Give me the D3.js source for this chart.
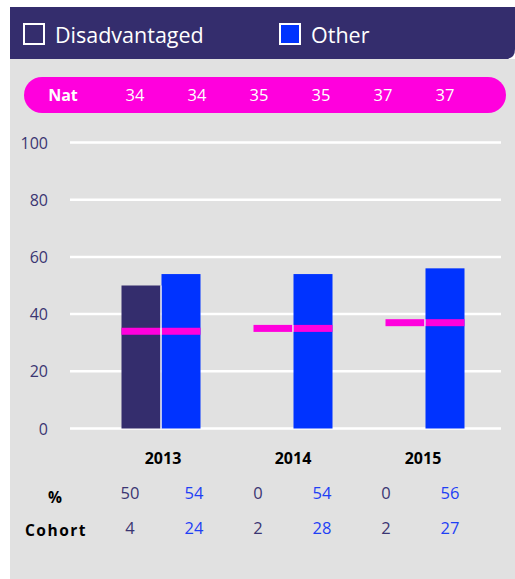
<!DOCTYPE html>
<html><head><meta charset="utf-8">
<script src="https://cdn.jsdelivr.net/npm/d3@7"></script>
<style>
html,body{margin:0;padding:0;background:#fff;}
text{font-family:"Open Sans",sans-serif;}
</style></head>
<body>
<svg id="c" width="515" height="579"></svg>
<script>
const years = ["2013","2014","2015"];
const series = ["Disadvantaged","Other"];
const disadvantaged = [50, 0, 0];
const other = [54, 54, 56];
const national = [34, 35, 37];
const natLabels = ["34","34","35","35","37","37"];
const cohortDis = [4, 2, 2];
const cohortOther = [24, 28, 27];
const yTicks = [0,20,40,60,80,100];

const colDis = "#342D6D", colOther = "#0033FF", colNat = "#FF00DD";
const svg = d3.select("#c");

// panels
svg.append("rect").attr("x",10).attr("y",59).attr("width",505).attr("height",520).attr("fill","#E1E1E1");
svg.append("path").attr("d", "M10,7 H515 V49 Q515,59 505,59 H10 Z").attr("fill", colDis);

// legend
const legend = [{name:series[0], fill:"none", x:23}, {name:series[1], fill:colOther, x:279}];
legend.forEach(l=>{
  svg.append("rect").attr("x",l.x+1).attr("y",24).attr("width",20).attr("height",20)
    .attr("fill",l.fill==="none"?colDis:l.fill).attr("stroke","#fff").attr("stroke-width",2);
  svg.append("text").attr("x",l.x+32).attr("y",42.5).attr("fill","#fff")
    .attr("font-size",21.5).text(l.name);
});

// Nat pill
svg.append("rect").attr("x",24).attr("y",77).attr("width",482).attr("height",36).attr("rx",18).attr("fill",colNat);
svg.append("text").attr("x",63).attr("y",101).attr("text-anchor","middle").attr("fill","#fff")
  .attr("font-weight","bold").attr("font-size",16).text("Nat");

// scales
const x0 = d3.scaleBand().domain(years).range([95.5, 491.5]);
const x1 = d3.scaleBand().domain(series).range([-40, 40]);
const y = d3.scaleLinear().domain([0,100]).range([428.5, 142.5]);
const bw = x1.bandwidth() - 1;
const natX = d3.scalePoint().domain(d3.range(natLabels.length)).range([135, 445]);
const tabX = d3.scalePoint().domain(d3.range(6)).range([130, 450]);
const yearX = d3.scalePoint().domain(years).range([163, 423]);

natLabels.forEach((t,i)=>{
  svg.append("text").attr("x", natX(i)).attr("y",101).attr("text-anchor","middle")
    .attr("fill","#fff").attr("font-size",16.5).text(t);
});

// grid
const g = svg.append("g");
yTicks.forEach(v=>{
  g.append("line").attr("x1",70).attr("x2",501).attr("y1",y(v)).attr("y2",y(v))
    .attr("stroke","#fff").attr("stroke-width",2.5);
  g.append("text").attr("x",48).attr("y",y(v)+6).attr("text-anchor","end")
    .attr("fill","#3B3572").attr("font-size",16).text(v);
});

// bars
const groups = svg.selectAll("g.grp").data(years).enter().append("g")
  .attr("transform", d=>`translate(${x0(d)+x0.bandwidth()/2},0)`);
groups.each(function(yr,i){
  const gg = d3.select(this);
  const vals = [disadvantaged[i], other[i]];
  series.forEach((s,j)=>{
    if (vals[j] > 0) gg.append("rect").attr("x", x1(s)).attr("width", bw)
      .attr("y", y(vals[j])).attr("height", y(0)-y(vals[j])).attr("fill", j? colOther: colDis);
    gg.append("rect").attr("x", x1(s)).attr("width", bw)
      .attr("y", y(national[i])-3.5).attr("height", 7).attr("fill", colNat);
  });
  const ov = Math.min(vals[0], vals[1]);
  const xs = x1(series[1]) - 1;
  if (ov > 0) gg.append("rect").attr("x", xs).attr("width",1).attr("y", y(ov)).attr("height", y(0)-y(ov)).attr("fill","#fff");
  gg.append("rect").attr("x", xs).attr("width",1).attr("y", y(national[i])-3.5).attr("height",7).attr("fill","#fff");
});

// category labels
years.forEach(yr=>{
  svg.append("text").attr("x", yearX(yr)).attr("y",464).attr("text-anchor","middle")
    .attr("font-weight","bold").attr("font-size",16).attr("fill","#000").text(yr);
});

// table
svg.append("text").attr("x",55).attr("y",503).attr("text-anchor","middle").attr("font-weight","bold")
  .attr("font-size",15.5).attr("fill","#000").text("%");
svg.append("text").attr("x",56).attr("y",536).attr("text-anchor","middle").attr("font-weight","bold")
  .attr("font-size",15.5).attr("letter-spacing",1.5).attr("fill","#000").text("Cohort");
years.forEach((yr,i)=>{
  [[disadvantaged[i], cohortDis[i], 2*i, "#3B3572"],[other[i], cohortOther[i], 2*i+1, "#1E40F5"]].forEach(r=>{
    svg.append("text").attr("x",tabX(r[2])).attr("y",499).attr("text-anchor","middle").attr("fill",r[3]).attr("font-size",16.5).text(r[0]);
    svg.append("text").attr("x",tabX(r[2])).attr("y",533.5).attr("text-anchor","middle").attr("fill",r[3]).attr("font-size",16.5).text(r[1]);
  });
});
</script>
</body></html>
